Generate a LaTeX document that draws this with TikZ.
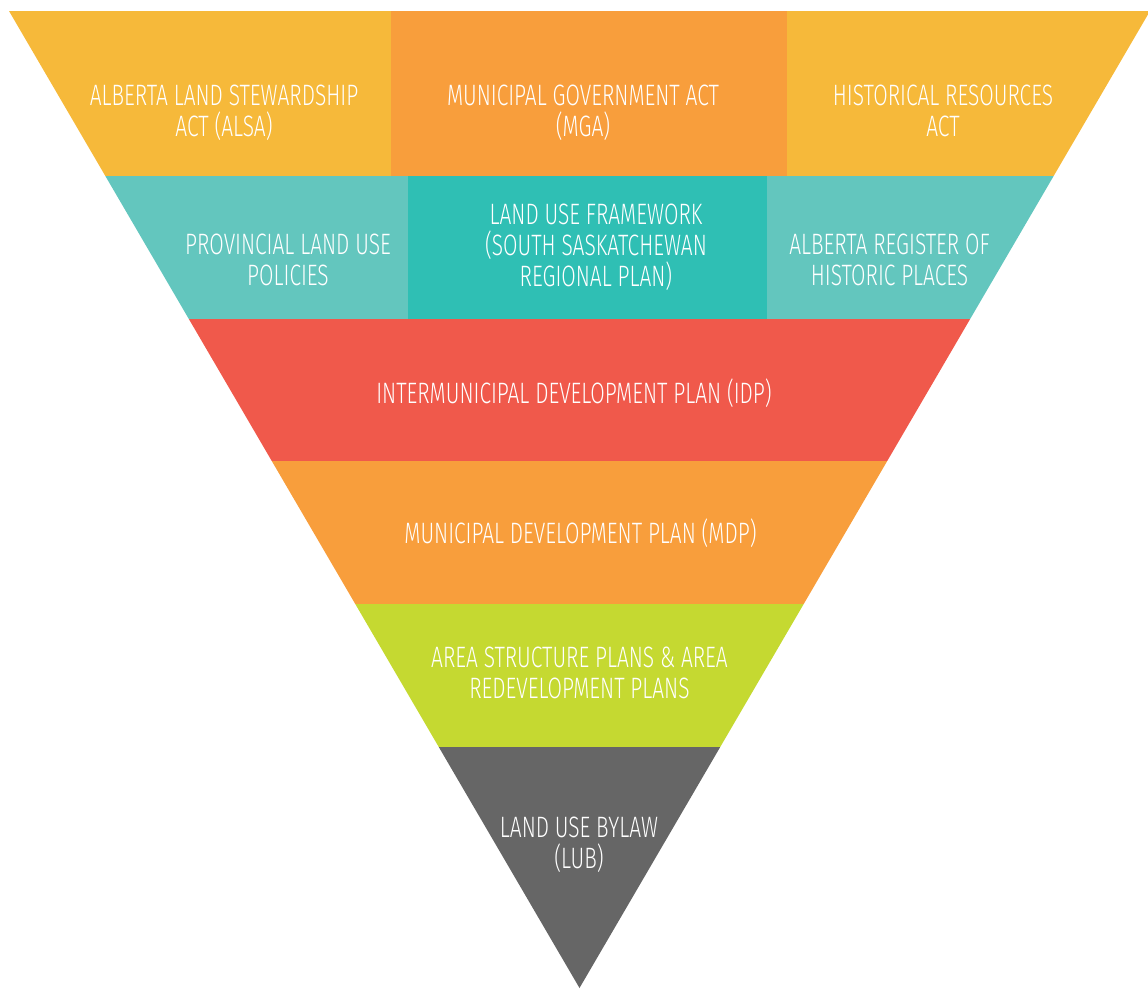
\documentclass[tikz,border=0pt]{standalone}
\usepackage{fontspec}
\setmainfont{Fira Sans}[UprightFont={* Light},FakeStretch=0.71]
\definecolor{actyellow}{HTML}{F6B93A}
\definecolor{actorange}{HTML}{F89E3C}
\definecolor{tealsoft}{HTML}{63C6BE}
\definecolor{tealdeep}{HTML}{2FBFB4}
\definecolor{idpred}{HTML}{F0594B}
\definecolor{mdporange}{HTML}{F89E3C}
\definecolor{asplime}{HTML}{C5D931}
\definecolor{lubgray}{HTML}{666666}
\begin{document}
\begin{tikzpicture}[x=1pt,y=-1pt,
  % labels are placed by the baseline of their last line
  tier/.style={text=white, align=center, inner sep=0pt, anchor=base,
    font=\fontsize{29.5}{30.7}\selectfont}]
\useasboundingbox (0,0) rectangle (1148,988);
% inverted triangle, cut into horizontal tiers
\begin{scope}
  \clip (9,11) -- (1150,11) -- (579.5,988) -- cycle;
  % tier 1: provincial acts
  \fill[actyellow] (0,11) rectangle (391,176);
  \fill[actorange] (391,11) rectangle (787,176);
  \fill[actyellow] (787,11) rectangle (1150,176);
  % tier 2: provincial policies and registers
  \fill[tealsoft] (0,176) rectangle (408,319);
  \fill[tealdeep] (408,176) rectangle (767,319);
  \fill[tealsoft] (767,176) rectangle (1150,319);
  % tiers 3 to 6: municipal plans
  \fill[idpred] (0,319) rectangle (1150,461);
  \fill[mdporange] (0,461) rectangle (1150,604);
  \fill[asplime] (0,604) rectangle (1150,747);
  \fill[lubgray] (0,747) rectangle (1150,990);
\end{scope}
% labels
\node[tier] (alsa) at (224,136) {ALBERTA LAND STEWARDSHIP\\ACT (ALSA)};
\node[tier] (mga) at (583,136) {MUNICIPAL GOVERNMENT ACT\\(MGA)};
\node[tier] (hra) at (943,136) {HISTORICAL RESOURCES\\ACT};
\node[tier] (plup) at (288,285) {PROVINCIAL LAND USE\\POLICIES};
\node[tier] (luf) at (596,286) {LAND USE FRAMEWORK\\(SOUTH SASKATCHEWAN\\REGIONAL PLAN)};
\node[tier] (arhp) at (889.5,285) {ALBERTA REGISTER OF\\HISTORIC PLACES};
\node[tier] (idp) at (574,403) {INTERMUNICIPAL DEVELOPMENT PLAN (IDP)};
\node[tier] (mdp) at (580.5,543) {MUNICIPAL DEVELOPMENT PLAN (MDP)};
\node[tier] (asp) at (579.5,698) {AREA STRUCTURE PLANS \& AREA\\REDEVELOPMENT PLANS};
\node[tier] (lub) at (579,868) {LAND USE BYLAW\\(LUB)};
\end{tikzpicture}
\end{document}
